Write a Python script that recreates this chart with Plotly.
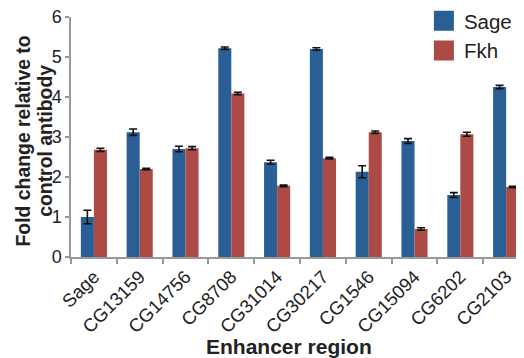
import plotly.graph_objects as go

categories = ["Sage", "CG13159", "CG14756", "CG8708", "CG31014",
              "CG30217", "CG1546", "CG15094", "CG6202", "CG2103"]
sage_values = [1.0, 3.12, 2.7, 5.22, 2.37, 5.2, 2.13, 2.9, 1.55, 4.25]
sage_errors = [0.17, 0.08, 0.07, 0.03, 0.05, 0.03, 0.15, 0.06, 0.06, 0.04]
fkh_values = [2.68, 2.2, 2.72, 4.09, 1.78, 2.47, 3.12, 0.7, 3.07, 1.75]
fkh_errors = [0.04, 0.02, 0.04, 0.03, 0.02, 0.02, 0.03, 0.03, 0.05, 0.02]
y_ticks = [0, 1, 2, 3, 4, 5, 6]
series_names = ["Sage", "Fkh"]
x_title = "Enhancer region"
y_title_lines = ["Fold change relative to", "control antibody"]

BLUE = "#2a5f95"
RED = "#ac4a45"
FONT = "Liberation Sans, Arial, sans-serif"
TXT = "#222222"

err_style = dict(type="data", visible=True, color="#111111", thickness=1.6, width=4)

fig = go.Figure()
fig.add_trace(go.Bar(
    name=series_names[0], x=categories, y=sage_values, showlegend=False,
    error_y=dict(array=sage_errors, **err_style),
    marker=dict(color=BLUE, line=dict(width=0)),
))
fig.add_trace(go.Bar(
    name=series_names[1], x=categories, y=fkh_values, showlegend=False,
    error_y=dict(array=fkh_errors, **err_style),
    marker=dict(color=RED, line=dict(width=0)),
))
# legend entries with large square keys
for name, col in zip(series_names, [BLUE, RED]):
    fig.add_trace(go.Scatter(
        name=name, x=[None], y=[None], mode="markers",
        marker=dict(symbol="square", size=18, color=col, line=dict(width=4, color=col)),
        showlegend=True,
    ))

# page body has an 8px margin, so the figure is 8px smaller than the window
fig.update_layout(
    template="none",
    width=516, height=350,
    margin=dict(l=63, r=0, t=9, b=101, autoexpand=False),
    paper_bgcolor="white", plot_bgcolor="white",
    barmode="group", bargap=0.43, bargroupgap=0,
    font=dict(family=FONT, color=TXT),
    showlegend=True,
    legend=dict(x=0.779, y=1.067, xanchor="left", yanchor="top",
                font=dict(size=20.5, family=FONT, color=TXT),
                bgcolor="rgba(0,0,0,0)", borderwidth=0,
                itemsizing="trace", itemwidth=30, tracegroupgap=0),
    xaxis=dict(
        automargin=False,
        range=[-0.5, 9.39], tickson="boundaries", ticks="outside",
        ticklen=5, tickcolor="#999999", tickwidth=1.5,
        showline=True, linecolor="#999999", linewidth=1.5,
        tickangle=-45, tickfont=dict(size=18.5, family=FONT, color=TXT),
        ticklabeloverflow="allow",
        showgrid=False, zeroline=False,
    ),
    yaxis=dict(
        automargin=False,
        range=[0, 6], tickvals=y_ticks, ticks="outside",
        ticklen=4, tickcolor="#999999", tickwidth=1.5,
        showline=True, linecolor="#999999", linewidth=1.5,
        tickfont=dict(size=18, family=FONT, color=TXT),
        ticklabeloverflow="allow",
        showgrid=False, zeroline=False,
    ),
    annotations=[
        dict(text="<b>%s</b>" % x_title, xref="paper", yref="paper",
             x=0.481, y=-0.371, xanchor="center", yanchor="middle",
             showarrow=False, font=dict(size=21, family=FONT, color=TXT)),
        dict(text="<b>%s</b>" % y_title_lines[0], xref="paper", yref="paper",
             x=-0.105, y=0.483, xanchor="center", yanchor="middle", textangle=-90,
             showarrow=False, font=dict(size=19.4, family=FONT, color=TXT)),
        dict(text="<b>%s</b>" % y_title_lines[1], xref="paper", yref="paper",
             x=-0.058, y=0.483, xanchor="center", yanchor="middle", textangle=-90,
             showarrow=False, font=dict(size=19.4, family=FONT, color=TXT)),
    ],
)

fig.write_html("out.html")
